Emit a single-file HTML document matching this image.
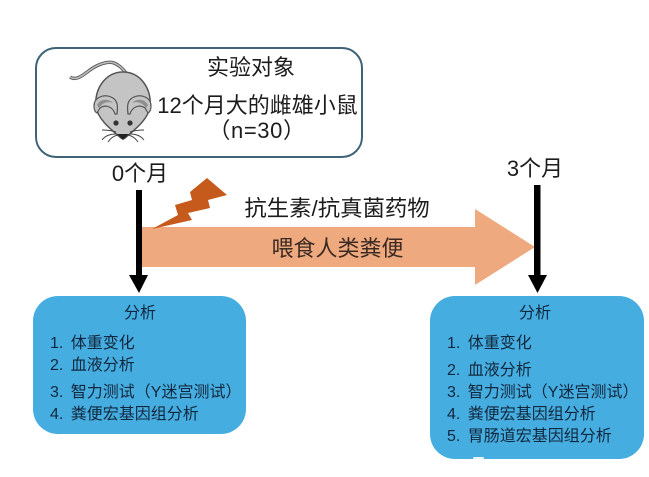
<!DOCTYPE html>
<html>
<head>
<meta charset="utf-8">
<style>
html,body{margin:0;padding:0;background:#fff;width:649px;height:477px;overflow:hidden}
svg{display:block}
text{font-family:"Liberation Sans","Noto Sans CJK SC",sans-serif;fill:#1c1c1c}
.b text{fill:#12283e;font-size:16px;word-spacing:3px}
</style>
</head>
<body>
<svg width="649" height="477" viewBox="0 0 649 477" xmlns="http://www.w3.org/2000/svg">
<rect x="36" y="48" width="326" height="109" rx="20" fill="#fff" stroke="#3f6478" stroke-width="2"/>

<!-- mouse -->
<path d="M70 77 C76 81 82 76 90 70 C98 64 108 61 114 63 C119 65 122 68 126 73" fill="none" stroke="#555" stroke-width="3.4"/>
<path d="M70 77 C76 81 82 76 90 70 C98 64 108 61 114 63 C119 65 122 68 126 73" fill="none" stroke="#bdbdbd" stroke-width="1.6"/>
<path d="M123 72 C141 72 152 90 150 106 C149 118 137 128 125 138 C124 139 122 139 121 138 C109 128 97 118 96 106 C94 90 105 72 123 72Z" fill="#c4c4c4" stroke="#555" stroke-width="1.5"/>
<path d="M94 106 C94 97 104 94 111 97 C118 100 118 106 117 114 L115 114 C113 107 106 104 100 108 L97 113 C95 112 94 110 94 106Z" fill="#c4c4c4" stroke="#555" stroke-width="1.2"/>
<path d="M97 105 C100 99 108 98 113 103 C108 101 103 102 99 108Z" fill="#8e8e8e"/>
<path d="M151 106 C151 97 141 94 134 97 C127 100 127 106 128 114 L130 114 C132 107 139 104 145 108 L148 113 C150 112 151 110 151 106Z" fill="#c4c4c4" stroke="#555" stroke-width="1.2"/>
<path d="M148 105 C145 99 137 98 132 103 C137 101 142 102 146 108Z" fill="#8e8e8e"/>
<circle cx="116" cy="123" r="2.6" fill="#333"/>
<circle cx="130" cy="123" r="2.6" fill="#333"/>
<path d="M117 134 L129 134 L123 140Z" fill="#222"/>
<path d="M116 132 C110 130 106 130 102 130 M116 134 C110 134 105 136 102 140 M118 135 C113 136 110 139 108 142 M130 132 C136 130 140 130 144 130 M130 134 C136 134 141 136 144 140 M128 135 C133 136 136 139 138 142" fill="none" stroke="#444" stroke-width="1"/>

<text x="251" y="75" font-size="22" text-anchor="middle">实验对象</text>
<text x="257.5" y="113" font-size="22" text-anchor="middle">12个月大的雌雄小鼠</text>
<text x="257" y="138" font-size="22" text-anchor="middle" letter-spacing="0.6">（n=30）</text>

<text x="140" y="181" font-size="22" text-anchor="middle">0个月</text>
<text x="535" y="176" font-size="22" text-anchor="middle">3个月</text>

<!-- large arrow -->
<path d="M142 227 H475 V209 L535 247 L475 285 V267 H142Z" fill="#efa97f"/>
<text x="337.5" y="256" font-size="22" text-anchor="middle" style="fill:#3a2a22">喂食人类粪便</text>
<text x="337" y="216" font-size="22.4" text-anchor="middle">抗生素/抗真菌药物</text>

<!-- lightning -->
<path d="M152 229 L178 215 L175 205 L192 200 L190 192 L207 178 L227 195 L208 200 L210 208 L188 213 L192 220Z" fill="#c55a1c"/>

<!-- black arrows -->
<rect x="136" y="190" width="6" height="86" fill="#000"/>
<path d="M129 275 H148 L139 293Z" fill="#000"/>
<rect x="534" y="185" width="6.5" height="91" fill="#000"/>
<path d="M528 275 H547 L537.5 293Z" fill="#000"/>

<!-- left box -->
<g class="b">
<rect x="33" y="296" width="213" height="138" rx="25" fill="#45ade0"/>
<text x="140" y="318" text-anchor="middle">分析</text>
<text x="50" y="348">1. 体重变化</text>
<text x="50" y="370">2. 血液分析</text>
<text x="50" y="397">3. 智力测试（Y迷宫测试）</text>
<text x="50" y="419">4. 粪便宏基因组分析</text>
</g>

<!-- right box -->
<g class="b">
<rect x="430" y="296" width="214" height="163" rx="25" fill="#45ade0"/>
<text x="535" y="318" text-anchor="middle">分析</text>
<text x="447" y="348">1. 体重变化</text>
<text x="447" y="375">2. 血液分析</text>
<text x="447" y="397">3. 智力测试（Y迷宫测试）</text>
<text x="447" y="419">4. 粪便宏基因组分析</text>
<text x="447" y="441">5. 胃肠道宏基因组分析</text>
</g>
<rect x="473" y="457" width="11" height="2" rx="1" fill="#e8f4fa"/>
</svg>
</body>
</html>
